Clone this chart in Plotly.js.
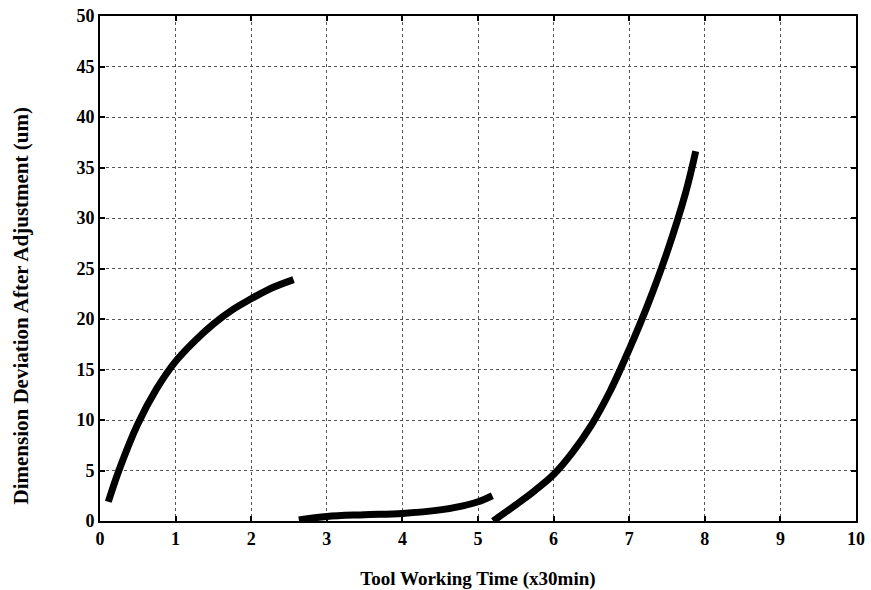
<!DOCTYPE html>
<html>
<head>
<meta charset="utf-8">
<script src="https://cdn.plot.ly/plotly-3.0.1.min.js"></script>
<style>html,body{margin:0;padding:0;background:#fff;}#chart{width:871px;height:590px;}</style>
</head>
<body>
<div id="chart"></div>
<script>
// Curve 1: early wear stage
const x1 = [0.11, 0.25, 0.5, 0.75, 1.0, 1.25, 1.5, 1.75, 2.0, 2.25, 2.56];
const y1 = [1.9, 5.0, 9.6, 13.1, 15.8, 17.8, 19.5, 20.9, 22.0, 23.0, 23.9];
// Curve 2: after first adjustment
const x2 = [2.63, 3.0, 3.5, 4.0, 4.5, 4.8, 5.0, 5.19];
const y2 = [0.1, 0.45, 0.62, 0.75, 1.1, 1.5, 1.9, 2.5];
// Curve 3: after second adjustment
const x3 = [5.2, 5.5, 5.75, 6.0, 6.25, 6.5, 6.75, 7.0, 7.25, 7.5, 7.75, 7.88];
const y3 = [0.0, 1.6, 3.0, 4.6, 6.8, 9.5, 12.9, 17.0, 21.5, 26.6, 32.6, 36.6];

const xTicks = [0,1,2,3,4,5,6,7,8,9,10];
const yTicks = [0,5,10,15,20,25,30,35,40,45,50];
const xTitle = 'Tool Working Time (x30min)';
const yTitle = 'Dimension Deviation After Adjustment (um)';

const lineStyle = {color: '#000', width: 7, shape: 'spline', smoothing: 1};
const traces = [
  {x: x1, y: y1, mode: 'lines', line: lineStyle, showlegend: false},
  {x: x2, y: y2, mode: 'lines', line: lineStyle, showlegend: false},
  {x: x3, y: y3, mode: 'lines', line: lineStyle, showlegend: false}
];

const font = {family: '"Liberation Serif", "DejaVu Serif", serif', color: '#000'};
const axisCommon = {
  showline: true, linecolor: '#000', linewidth: 2, mirror: 'ticks',
  ticks: 'inside', ticklen: 5, tickwidth: 2, tickcolor: '#000',
  showgrid: true, gridcolor: '#555', gridwidth: 1, griddash: 'dot',
  zeroline: false,
  tickfont: Object.assign({}, font, {size: 18, weight: 'bold'})
};

const layout = {
  width: 871, height: 590,
  margin: {l: 100, r: 15, t: 16, b: 69},
  paper_bgcolor: '#fff', plot_bgcolor: '#fff',
  xaxis: Object.assign({}, axisCommon, {
    range: [0, 10], tickvals: xTicks, ticktext: xTicks.map(String),
    title: {text: xTitle, font: Object.assign({}, font, {size: 19, weight: 'bold'}), standoff: 28}
  }),
  yaxis: Object.assign({}, axisCommon, {
    range: [0, 50], tickvals: yTicks, ticktext: yTicks.map(String)
  }),
  annotations: [{
    text: yTitle, textangle: -90, showarrow: false,
    xref: 'paper', yref: 'paper', x: -0.105, y: 0.426,
    xanchor: 'center', yanchor: 'middle',
    font: Object.assign({}, font, {size: 21, weight: 'bold'})
  }]
};

Plotly.newPlot('chart', traces, layout, {staticPlot: true, displayModeBar: false});
</script>
</body>
</html>
